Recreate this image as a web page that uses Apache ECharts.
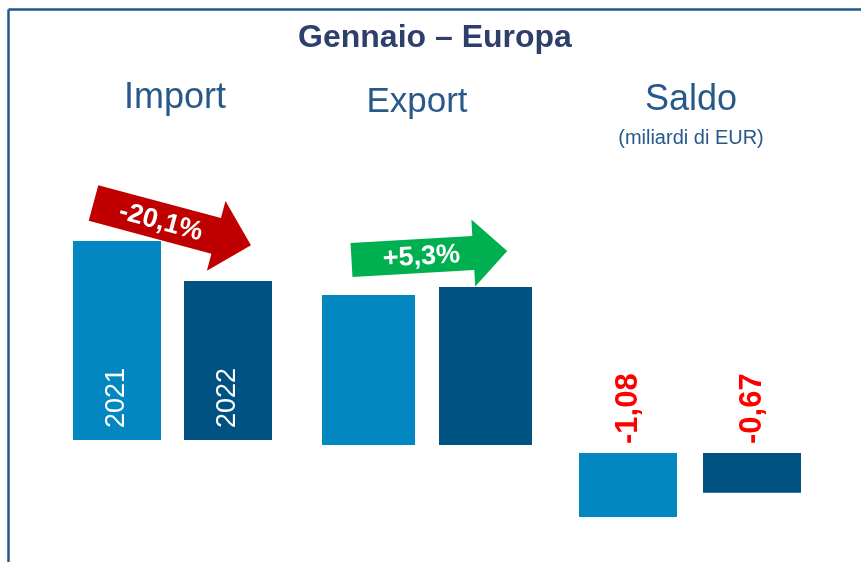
<!DOCTYPE html>
<html>
<head>
<meta charset="utf-8">
<script src="https://cdn.jsdelivr.net/npm/echarts@6/dist/echarts.min.js"></script>
<style>
  html, body { margin: 0; padding: 0; background: #fff; }
  #main { width: 861px; height: 562px; }
</style>
</head>
<body>
<div id="main"></div>
<script>
// dati
var anni = ['2021', '2022'];
var importVal = [100, 79.9];    // indice, 2021 = 100
var exportVal = [100, 105.3];   // indice, 2021 = 100
var saldoVal = [-1.08, -0.67];  // miliardi di EUR

var coloriBarre = ['#0287c0', '#005282'];
var fontBase = 'Arial, "Liberation Sans", sans-serif';

function variazione(arr) {
    var v = (arr[1] / arr[0] - 1) * 100;
    return (v > 0 ? '+' : '') + v.toFixed(1).replace('.', ',') + '%';
}
function virgola(v) {
    return v.toFixed(2).replace('.', ',');
}
function barData(arr) {
    return arr.map(function (v, i) {
        return { value: v, itemStyle: { color: coloriBarre[i] } };
    });
}

// freccia orientata lungo x, poi ruotata
function freccia(x, y, angolo, lung, testa, spess, largTesta, colore, testo, tx) {
    return {
        type: 'group', x: x, y: y, rotation: angolo * Math.PI / 180,
        children: [
            {
                type: 'polygon',
                shape: { points: [[0, -spess / 2], [lung - testa, -spess / 2], [lung - testa, -largTesta / 2],
                    [lung, 0], [lung - testa, largTesta / 2], [lung - testa, spess / 2], [0, spess / 2]] },
                style: { fill: colore }
            },
            {
                type: 'text', x: tx, y: 1,
                style: {
                    text: testo, fill: '#fff', font: 'bold 27px ' + fontBase,
                    textAlign: 'center', textVerticalAlign: 'middle', align: 'center', verticalAlign: 'middle'
                }
            }
        ]
    };
}

function titolo(testo, x, y, size, colore, peso) {
    return {
        type: 'text', x: x, y: y,
        style: {
            text: testo, fill: colore, font: (peso || 'normal') + ' ' + size + 'px ' + fontBase,
            textAlign: 'center', textVerticalAlign: 'middle', align: 'center', verticalAlign: 'middle'
        }
    };
}

var myChart = echarts.init(document.getElementById('main'));

var option = {
    animation: false,
    grid: [
        { left: 61.5, width: 222, top: 241, height: 199 },
        { left: 310, width: 234, top: 287, height: 158 },
        { left: 566, width: 248, top: 453, height: 64 }
    ],
    xAxis: [0, 1, 2].map(function (i) {
        return { type: 'category', gridIndex: i, data: anni, show: false };
    }),
    yAxis: [
        { type: 'value', gridIndex: 0, min: 0, max: importVal[0], show: false },
        { type: 'value', gridIndex: 1, min: 0, max: exportVal[1], show: false },
        { type: 'value', gridIndex: 2, min: saldoVal[0], max: 0, show: false }
    ],
    series: [
        {
            name: 'Import', type: 'bar', xAxisIndex: 0, yAxisIndex: 0, barWidth: 88,
            data: barData(importVal),
            label: {
                show: true, position: 'insideBottom', distance: 12, rotate: 90,
                align: 'left', verticalAlign: 'middle',
                color: '#fff', fontSize: 27, fontFamily: fontBase,
                formatter: function (p) { return p.name; }
            }
        },
        {
            name: 'Export', type: 'bar', xAxisIndex: 1, yAxisIndex: 1, barWidth: 93,
            data: barData(exportVal)
        },
        {
            name: 'Saldo', type: 'bar', xAxisIndex: 2, yAxisIndex: 2, barWidth: 98,
            data: barData(saldoVal),
            label: {
                show: true, position: 'top', distance: 9, rotate: 90,
                align: 'left', verticalAlign: 'middle',
                color: '#ff0000', fontSize: 31, fontWeight: 'bold', fontFamily: fontBase,
                formatter: function (p) { return virgola(p.value); }
            }
        }
    ],
    graphic: [
        // cornice
        { type: 'line', shape: { x1: 8.5, y1: 9.5, x2: 861, y2: 9.5 }, style: { stroke: '#22598a', lineWidth: 2.5 } },
        { type: 'line', shape: { x1: 8.5, y1: 9.5, x2: 8.5, y2: 562 }, style: { stroke: '#22598a', lineWidth: 2.5 } },
        titolo('Gennaio – Europa', 435, 38, 32, '#2e3f6c', 'bold'),
        titolo('Import', 175, 98, 36, '#27598a'),
        titolo('Export', 417, 102, 35, '#27598a'),
        titolo('Saldo', 691, 100, 36, '#27598a'),
        titolo('(miliardi di EUR)', 691, 138, 20, '#27598a'),
        freccia(93.5, 203, -15, 163, 36, 37, 72, '#c00000', variazione(importVal), 70),
        freccia(351.5, 260, 3.3, 156, 34, 34, 67, '#00b050', variazione(exportVal), 70)
    ]
};

myChart.setOption(option);
</script>
</body>
</html>
